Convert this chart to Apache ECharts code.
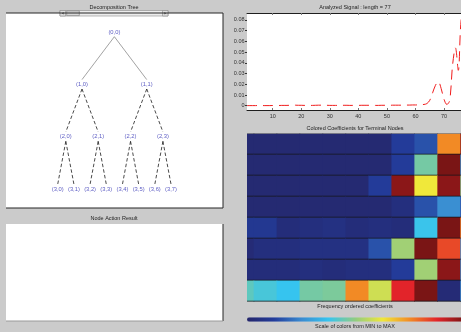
<!DOCTYPE html>
<html>
<head>
<meta charset="utf-8">
<script src="https://cdn.jsdelivr.net/npm/echarts@6/dist/echarts.min.js"></script>
<style>
  html, body { margin: 0; padding: 0; overflow: hidden; background: #cbcbcb; }
  #c { width: 470px; height: 332px; }
</style>
</head>
<body>
<div id="c"></div>
<script>
// ---- data ----
// Analyzed signal, 77 samples
const signal = [
  0.0001, 0.0001, 0.0001, 0.0001, 0.0002, 0.0002, 0.0001, 0.0001, 0.0001, 0.0002,
  0.0002, 0.0002, 0.0003, 0.0003, 0.0003, 0.0004, 0.0005, 0.0005, 0.0004, 0.0004,
  0.0003, 0.0003, 0.0003, 0.0003, 0.0004, 0.0005, 0.0005, 0.0004, 0.0004, 0.0003,
  0.0003, 0.0003, 0.0003, 0.0004, 0.0004, 0.0004, 0.0003, 0.0003, 0.0003, 0.0003,
  0.0004, 0.0004, 0.0004, 0.0004, 0.0003, 0.0003, 0.0003, 0.0004, 0.0004, 0.0004,
  0.0004, 0.0005, 0.0005, 0.0005, 0.0005, 0.0005, 0.0006, 0.0006, 0.0007, 0.0007,
  0.0008, 0.0010, 0.0012, 0.0020, 0.0050, 0.0120, 0.0190, 0.0225, 0.0160, 0.0060,
  0.0012, 0.0050, 0.0380, 0.0540, 0.0330, 0.0800, 0.0860
];
const signalXTicks = [10, 20, 30, 40, 50, 60, 70];
const signalYTicks = [0, 0.01, 0.02, 0.03, 0.04, 0.05, 0.06, 0.07, 0.08];
const signalYLabels = ['0', '0.01', '0.02', '0.03', '0.04', '0.05', '0.06', '0.07', '0.08'];

// Colored coefficients of the 8 terminal nodes (normalized 0 = MIN .. 1 = MAX)
const coefNode30 = [0.02, 0.02, 0.02, 0.02, 0.02, 0.02, 0.02, 0.12, 0.16, 0.75, 0.98];
const coefNode31 = [0.02, 0.02, 0.02, 0.02, 0.02, 0.02, 0.02, 0.12, 0.46, 1.00, 0.27];
const coefNode32 = [0.02, 0.02, 0.02, 0.02, 0.02, 0.02, 0.12, 0.98, 0.625, 0.98, 0.48];
const coefNode33 = [0.02, 0.02, 0.02, 0.02, 0.02, 0.02, 0.02, 0.05, 0.16, 0.26, 0.15];
const coefNode34 = [0.10, 0.10, 0.04, 0.05, 0.06, 0.04, 0.05, 0.04, 0.38, 1.00, 0.76];
const coefNode35 = [0.03, 0.05, 0.05, 0.06, 0.06, 0.06, 0.16, 0.52, 1.00, 0.83, 0.27];
const coefNode36 = [0.04, 0.04, 0.04, 0.05, 0.04, 0.05, 0.05, 0.12, 0.52, 0.98, 0.26];
const coefNode37 = [0.43, 0.40, 0.375, 0.46, 0.47, 0.75, 0.58, 0.875, 1.00, 0.03, 0.26];
const coefRows = [coefNode30, coefNode31, coefNode32, coefNode33, coefNode34, coefNode35, coefNode36, coefNode37];

// Decomposition tree depth
const treeDepth = 3;

// Jet-like color scale (MIN -> MAX)
const jetColors = ['#25266a', '#233c9b', '#3a8ad0', '#36c4ef', '#92cc80', '#f0e83a', '#f28a25', '#e2242a', '#7a1515'];

// ---- layout ----
const P = {
  tree:   { l: 6,   t: 13,    w: 217, h: 195 },
  action: { l: 6,   t: 224,   w: 217, h: 97 },
  sig:    { l: 247, t: 13,    w: 217, h: 97 },
  heat:   { l: 247, t: 133.5, w: 217, h: 168 }
};
const FONT = 'Liberation Sans, Arial, sans-serif';
const textColor = '#222';

// ---- tree nodes and edges ----
const nodePos = (d, i) => [(i + 0.5) / Math.pow(2, d), d];
const treeNodes = [];
const rootEdges = [];
const innerEdges = [];
for (let d = 0; d <= treeDepth; d++) {
  for (let i = 0; i < Math.pow(2, d); i++) {
    const p = nodePos(d, i);
    treeNodes.push({ value: p, name: '(' + d + ',' + i + ')' });
    if (d < treeDepth) {
      for (const c of [2 * i, 2 * i + 1]) {
        const q = nodePos(d + 1, c);
        const e = { coords: [[p[0], p[1] + 0.09], [q[0], q[1] - 0.09]] };
        (d === 0 ? rootEdges : innerEdges).push(e);
      }
    }
  }
}

// ---- heatmap cells ----
const heatData = [];
coefRows.forEach((row, r) => row.forEach((v, c) => heatData.push([c, r, v])));

function renderCell(params, api) {
  const c = api.value(0), r = api.value(1);
  const a = api.coord([c - 0.5, r]);
  const b = api.coord([c + 0.5, r + 1]);
  const x0 = Math.min(a[0], b[0]), x1 = Math.max(a[0], b[0]);
  const y0 = Math.min(a[1], b[1]), y1 = Math.max(a[1], b[1]);
  const children = [
    { type: 'rect', shape: { x: x0, y: y0, width: x1 - x0 + 0.6, height: y1 - y0 },
      style: { fill: api.visual('color') } },
    { type: 'line', shape: { x1: x0, y1: y1, x2: x1 + 0.6, y2: y1 },
      style: { stroke: '#141418', lineWidth: 1.3 } }
  ];
  if (r === 0) {
    children.push({ type: 'line', shape: { x1: x0, y1: y0, x2: x1 + 0.6, y2: y0 },
      style: { stroke: '#3a3a40', lineWidth: 0.8 } });
  }
  return { type: 'group', children };
}

// ---- decorations: titles, panel frames, scrollbar ----
function title(text, cx, cy) {
  return { type: 'text', x: cx, y: cy, z: 10,
    style: { text, font: '5.5px ' + FONT, fill: textColor, align: 'center', verticalAlign: 'middle' } };
}
function frame(p, sides, color) {
  const l = p.l, t = p.t, r = p.l + p.w, b = p.t + p.h;
  const seg = { top: [l, t, r, t], right: [r, t, r, b], bottom: [l, b, r, b] };
  return sides.map(s => ({ type: 'line', z: 10,
    shape: { x1: seg[s][0], y1: seg[s][1], x2: seg[s][2], y2: seg[s][3] },
    style: { stroke: color, lineWidth: 1 } }));
}
const scrollbar = {
  type: 'group', x: 60, y: 10.5, z: 20,
  children: [
    { type: 'rect', shape: { x: 0, y: 0, width: 108, height: 5.5 }, style: { fill: '#ececec', stroke: '#8c8c8c', lineWidth: 0.6 } },
    { type: 'rect', shape: { x: 0, y: 0, width: 5.5, height: 5.5 }, style: { fill: '#dedede', stroke: '#8c8c8c', lineWidth: 0.6 } },
    { type: 'polygon', shape: { points: [[3.6, 1.6], [3.6, 3.9], [1.8, 2.75]] }, style: { fill: '#555' } },
    { type: 'rect', shape: { x: 6.7, y: 0.4, width: 12.6, height: 4.7 }, style: { fill: '#d8d8d8', stroke: '#7a7a7a', lineWidth: 0.6 } },
    { type: 'rect', shape: { x: 102.5, y: 0, width: 5.5, height: 5.5 }, style: { fill: '#dedede', stroke: '#8c8c8c', lineWidth: 0.6 } },
    { type: 'polygon', shape: { points: [[104.4, 1.6], [104.4, 3.9], [106.2, 2.75]] }, style: { fill: '#555' } }
  ]
};

const gridOf = (p, extra) => Object.assign({ left: p.l, top: p.t, width: p.w, height: p.h, containLabel: false }, extra || {});
const hiddenAxis = (gi, extra) => Object.assign({ type: 'value', gridIndex: gi, show: false, splitLine: { show: false } }, extra || {});

const chart = echarts.init(document.getElementById('c'), null, { renderer: 'canvas' });
chart.setOption({
  backgroundColor: '#cbcbcb',
  animation: false,
  textStyle: { fontFamily: FONT },
  grid: [
    gridOf(P.tree,   { show: true, backgroundColor: '#ffffff', borderWidth: 0 }),
    gridOf(P.action, { show: true, backgroundColor: '#ffffff', borderWidth: 0 }),
    gridOf(P.sig,    { show: true, backgroundColor: '#ffffff', borderWidth: 0 }),
    gridOf(P.heat,   { show: false })
  ],
  xAxis: [
    hiddenAxis(0, { min: -0.337, max: 1.339 }),
    hiddenAxis(1, { min: 0, max: 1 }),
    {
      type: 'value', gridIndex: 2, min: 1, max: 77, position: 'bottom',
      axisLine: { show: true, onZero: false, lineStyle: { color: '#1e1e1e', width: 1 } },
      axisTick: { show: true, inside: true, length: 2, customValues: signalXTicks, lineStyle: { color: '#777' } },
      axisLabel: { show: true, customValues: signalXTicks, fontSize: 5.5, color: '#333', margin: 3 },
      splitLine: { show: false }
    },
    {
      type: 'value', gridIndex: 2, min: 1, max: 77, position: 'top',
      axisLine: { show: true, onZero: false, lineStyle: { color: '#1e1e1e', width: 1 } },
      axisTick: { show: true, inside: true, length: 2, customValues: signalXTicks, lineStyle: { color: '#777' } },
      axisLabel: { show: false },
      splitLine: { show: false }
    },
    hiddenAxis(3, { min: 0.21, max: 9.66 })
  ],
  yAxis: [
    hiddenAxis(0, { min: -0.363, max: 3.365, inverse: true }),
    hiddenAxis(1, { min: 0, max: 1 }),
    {
      type: 'value', gridIndex: 2, min: -0.004, max: 0.0865,
      axisLine: { show: false },
      axisTick: { show: true, inside: false, length: 2, customValues: signalYTicks, lineStyle: { color: '#333' } },
      axisLabel: {
        show: true, customValues: signalYTicks, fontSize: 5.5, color: '#333', margin: 2.5,
        formatter: v => {
          const k = signalYTicks.findIndex(t => Math.abs(t - v) < 1e-9);
          return k >= 0 ? signalYLabels[k] : '';
        }
      },
      splitLine: { show: false }
    },
    hiddenAxis(3, { min: 0, max: 8, inverse: true })
  ],
  visualMap: {
    type: 'continuous', min: 0, max: 1, dimension: 2, seriesIndex: 4,
    orient: 'horizontal', left: 247, top: 317.3, padding: 0,
    itemWidth: 4.5, itemHeight: 217, calculable: false, hoverLink: false,
    inRange: { color: jetColors }
  },
  series: [
    {
      type: 'lines', coordinateSystem: 'cartesian2d', xAxisIndex: 0, yAxisIndex: 0,
      data: rootEdges, silent: true,
      lineStyle: { color: '#8a8a8a', width: 0.8, type: 'solid', opacity: 1 }
    },
    {
      type: 'lines', coordinateSystem: 'cartesian2d', xAxisIndex: 0, yAxisIndex: 0,
      data: innerEdges, silent: true,
      lineStyle: { color: '#1c1c1c', width: 0.8, type: [3.5, 2.2], opacity: 1 }
    },
    {
      type: 'scatter', xAxisIndex: 0, yAxisIndex: 0, data: treeNodes,
      symbolSize: 0, silent: true,
      label: { show: true, position: 'inside', formatter: p => p.name,
        fontSize: 5.8, color: '#3232b4', fontFamily: FONT }
    },
    {
      type: 'line', xAxisIndex: 2, yAxisIndex: 2,
      data: signal.map((v, i) => [i + 1, v]),
      showSymbol: false, smooth: 0.35, silent: true,
      lineStyle: { color: '#f01c1c', width: 1, type: [10, 6] }
    },
    {
      type: 'custom', xAxisIndex: 4, yAxisIndex: 3, data: heatData,
      renderItem: renderCell, clip: true, silent: true,
      encode: { x: 0, y: 1 }
    }
  ],
  graphic: [
    title('Decomposition Tree', 114, 7.5),
    title('Node Action Result', 114, 218),
    title('Analyzed Signal : length = 77', 355, 7.5),
    title('Colored Coefficients for Terminal Nodes', 355, 128),
    title('Frequency ordered coefficients', 355, 306.5),
    title('Scale of colors from MIN to MAX', 355, 326.5),
    ...frame(P.tree, ['top', 'right', 'bottom'], '#262626'),
    ...frame(P.action, ['right'], '#262626'),
    ...frame(P.action, ['bottom'], '#9a9a9a'),
    scrollbar
  ]
});
</script>
</body>
</html>
